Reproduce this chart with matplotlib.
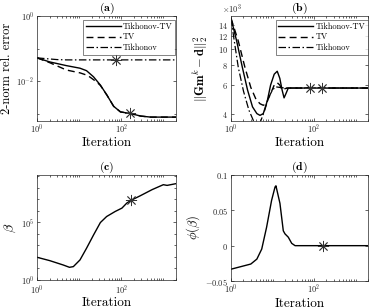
import numpy as np
import matplotlib
matplotlib.use('Agg')
import matplotlib.pyplot as plt
from matplotlib.ticker import FixedLocator, FuncFormatter, NullFormatter

plt.rcParams['mathtext.fontset'] = 'cm'
plt.rcParams['font.family'] = ['cmr10', 'DejaVu Serif']
plt.rcParams['axes.unicode_minus'] = False

# (a) relative error
a_x_tiktv = [1, 2, 5, 10.5, 15, 22, 32, 46, 66, 96, 165, 290, 500, 2000]
a_y_tiktv = [0.052, 0.039, 0.030, 0.025, 0.021, 0.0136, 0.0076, 0.0037, 0.0017,
             0.00114, 0.00102, 0.00085, 0.00079, 0.00079]
a_x_tv = [1, 2, 5, 10.5, 16, 26, 32, 46, 66, 96, 165, 290, 500, 2000]
a_y_tv = [0.052, 0.037, 0.022, 0.018, 0.015, 0.0095, 0.0074, 0.0037, 0.0017,
          0.00114, 0.00102, 0.00085, 0.00079, 0.00079]
a_x_tik = [1, 2, 3, 5, 10, 100, 2000]
a_y_tik = [0.052, 0.048, 0.046, 0.045, 0.045, 0.045, 0.045]
a_star_x = [77, 165]
a_star_y = [0.045, 0.00102]

# (b) data misfit (x1e3)
b_x_tiktv = [1, 1.37, 1.88, 2.5, 3.3, 4.2, 5, 6, 7.5, 9, 11, 13, 15, 17, 19, 21, 24, 2000]
b_y_tiktv = [15.5, 11.2, 7.7, 5.6, 4.4, 4.0, 3.9, 4.0, 4.8, 6.0, 7.0, 7.3, 6.6, 5.6,
             5.0, 5.3, 5.75, 5.75]
b_x_tv = [1, 1.5, 2.17, 3, 4, 5, 6, 7, 9, 11, 13, 15, 17, 20, 23, 2000]
b_y_tv = [15.5, 11.2, 7.7, 5.8, 4.9, 4.6, 4.5, 4.6, 5.3, 6.0, 6.2, 6.0, 5.6, 5.7,
          5.75, 5.75]
b_x_tik = [1, 1.2, 1.5, 2, 2.7, 3.5, 4, 5, 6.5, 8, 10, 12, 15, 20, 2000]
b_y_tik = [15.5, 11.2, 7.7, 5.5, 4.2, 3.6, 3.45, 3.5, 4.2, 5.0, 5.6, 5.85, 5.8,
           5.75, 5.75]
b_star_x = [80, 160]
b_star_y = [5.75, 5.75]

# (c) beta
c_x = [1, 2, 4.2, 5.9, 7.3, 10.5, 15, 22, 32, 45, 72, 104, 136, 170, 283, 540,
       1000, 1230, 2000]
c_logy = [1.97, 1.68, 1.3, 1.1, 1.16, 1.74, 2.75, 3.9, 4.98, 5.5, 5.94, 6.23,
          6.67, 6.9, 7.3, 7.83, 8.26, 8.2, 8.35]
c_star_x = 167
c_star_logy = 6.9

# (d) phi(beta)
d_x = [1, 3.0, 4.2, 5.5, 7.2, 9.5, 11.5, 12.1, 15.1, 18.2, 20, 24, 29, 35, 2000]
d_y = [-0.0333, -0.026, -0.019, -0.0048, 0.026, 0.064, 0.083, 0.0847, 0.06,
       0.021, 0.0167, 0.012, 0.0033, 0.0, 0.0]
d_star_x = 167
d_star_y = 0.0

W, H = 370, 308
fig = plt.figure(figsize=(W / 100, H / 100), dpi=100)

def box(l, t, r, b):
    return [l / W, 1 - b / H, (r - l) / W, (b - t) / H]

ax_a = fig.add_axes(box(37, 16, 176, 121))
ax_b = fig.add_axes(box(231, 16, 368, 121))
ax_c = fig.add_axes(box(37, 175, 176, 280))
ax_d = fig.add_axes(box(231, 175, 368, 281))

tick_fs = 6
lab_fs = 9
dark = '#262626'

def pow_fmt(v, pos):
    e = int(round(np.log10(v)))
    return r'$\mathsf{10^{%d}}$' % e

def sf_fmt(s):
    return r'$\mathsf{%s}$' % s

minor_x = [m * 10 ** k for k in range(0, 4) for m in range(1, 10)
           if 1 <= m * 10 ** k <= 2000 and m * 10 ** k not in (1, 100)]

for ax in (ax_a, ax_b, ax_c, ax_d):
    ax.set_xscale('log')
    ax.set_xlim(1, 2000)
    ax.xaxis.set_major_locator(FixedLocator([1, 100]))
    ax.xaxis.set_major_formatter(FuncFormatter(pow_fmt))
    ax.xaxis.set_minor_locator(FixedLocator(minor_x))
    ax.xaxis.set_minor_formatter(NullFormatter())
    ax.tick_params(which='both', direction='in', top=True, right=True,
                   labelsize=tick_fs, colors=dark, width=0.5)
    ax.tick_params(which='major', length=2.5, pad=2)
    ax.tick_params(axis='x', which='major', pad=1.5)
    ax.tick_params(which='minor', length=1.3)
    for s in ax.spines.values():
        s.set_linewidth(0.5)
        s.set_color(dark)
    ax.set_xlabel('Iteration', fontsize=lab_fs + 0.5)
    ax.xaxis.set_label_coords(0.5, -0.155)

ls_solid = dict(color='k', lw=1.0)
ls_dash = dict(color='k', lw=1.0, ls=(0, (5, 3)))
ls_dd = dict(color='k', lw=0.9, ls=(0, (6, 2, 1.2, 2)))
star = dict(ls='none', marker=(8, 2, 0), ms=8, mew=0.6, color='#333333')

leg_kw = dict(loc='upper right', fontsize=6, handlelength=4.2, frameon=True,
              fancybox=False, edgecolor=dark, borderpad=0.3, labelspacing=0.3,
              handletextpad=0.3, borderaxespad=0.0)

# (a)
ax_a.plot(a_x_tiktv, a_y_tiktv, label='Tikhonov-TV', **ls_solid)
ax_a.plot(a_x_tv, a_y_tv, label='TV', **ls_dash)
ax_a.plot(a_x_tik, a_y_tik, label='Tikhonov', **ls_dd)
ax_a.plot(a_star_x, a_star_y, **star)
ax_a.set_yscale('log')
ax_a.set_ylim(6e-4, 1)
ax_a.yaxis.set_major_locator(FixedLocator([1e-2, 1]))
ax_a.yaxis.set_major_formatter(FuncFormatter(pow_fmt))
ax_a.yaxis.set_minor_locator(FixedLocator([1e-3, 1e-1]))
ax_a.yaxis.set_minor_formatter(NullFormatter())
ax_a.set_ylabel('2-norm rel. error', fontsize=lab_fs)
ax_a.yaxis.set_label_coords(-0.17, 0.5)
leg = ax_a.legend(bbox_to_anchor=(0.995, 0.965), **leg_kw)
leg.get_frame().set_linewidth(0.5)
ax_a.set_title(r'$\mathbf{(a)}$', fontsize=8.5, pad=0.5)

# (b)
ax_b.plot(b_x_tiktv, np.array(b_y_tiktv) * 1e3, label='Tikhonov-TV', **ls_solid)
ax_b.plot(b_x_tv, np.array(b_y_tv) * 1e3, label='TV', **ls_dash)
ax_b.plot(b_x_tik, np.array(b_y_tik) * 1e3, label='Tikhonov', **ls_dd)
ax_b.plot(b_star_x, np.array(b_star_y) * 1e3, **star)
ax_b.set_yscale('log')
ax_b.set_ylim(3600, 16000)
ax_b.yaxis.set_major_locator(FixedLocator([4000, 6000, 8000, 10000, 12000, 14000]))
ax_b.yaxis.set_major_formatter(FuncFormatter(lambda v, p: sf_fmt('%d' % round(v / 1000))))
ax_b.yaxis.set_minor_locator(FixedLocator([]))
ax_b.set_ylabel(r'$\Vert\mathbf{Gm}^k-\mathbf{d}\Vert_2^2$', fontsize=lab_fs)
ax_b.yaxis.set_label_coords(-0.15, 0.5)
leg = ax_b.legend(bbox_to_anchor=(1.0, 0.965), **leg_kw)
leg.get_frame().set_linewidth(0.5)
ax_b.set_title(r'$\mathbf{(b)}$', fontsize=8.5, pad=0.5)
fig.text(222 / W, 1 - 9 / H, r'$\times\mathsf{10^{3}}$', fontsize=tick_fs,
         color=dark, va='center', ha='left')

# (c)
ax_c.plot(c_x, 10 ** np.array(c_logy), **ls_solid)
ax_c.plot([c_star_x], [10 ** c_star_logy], **star)
ax_c.set_yscale('log')
ax_c.set_ylim(1, 10 ** 9.1)
ax_c.yaxis.set_major_locator(FixedLocator([1, 1e5]))
ax_c.yaxis.set_major_formatter(FuncFormatter(pow_fmt))
ax_c.yaxis.set_minor_locator(FixedLocator([1e1, 1e2, 1e3, 1e4, 1e6, 1e7, 1e8, 1e9]))
ax_c.yaxis.set_minor_formatter(NullFormatter())
ax_c.set_ylabel(r'$\beta$', fontsize=lab_fs + 1)
ax_c.yaxis.set_label_coords(-0.14, 0.5)
ax_c.set_title(r'$\mathbf{(c)}$', fontsize=8.5, pad=0.5)
ax_c.tick_params(axis='x', which='major', pad=2.8)
ax_c.xaxis.set_label_coords(0.5, -0.165)

# (d)
ax_d.plot(d_x, d_y, **ls_solid)
ax_d.plot([d_star_x], [d_star_y], **star)
ax_d.set_ylim(-0.05, 0.1)
ax_d.yaxis.set_major_locator(FixedLocator([-0.05, 0, 0.05, 0.1]))
ax_d.yaxis.set_major_formatter(FuncFormatter(lambda v, p: sf_fmt('%g' % round(v, 3))))
ax_d.set_ylabel(r'$\phi(\beta)$', fontsize=lab_fs)
ax_d.yaxis.set_label_coords(-0.21, 0.5)
ax_d.set_title(r'$\mathbf{(d)}$', fontsize=8.5, pad=0.5)

fig.savefig('out.png', dpi=100)
